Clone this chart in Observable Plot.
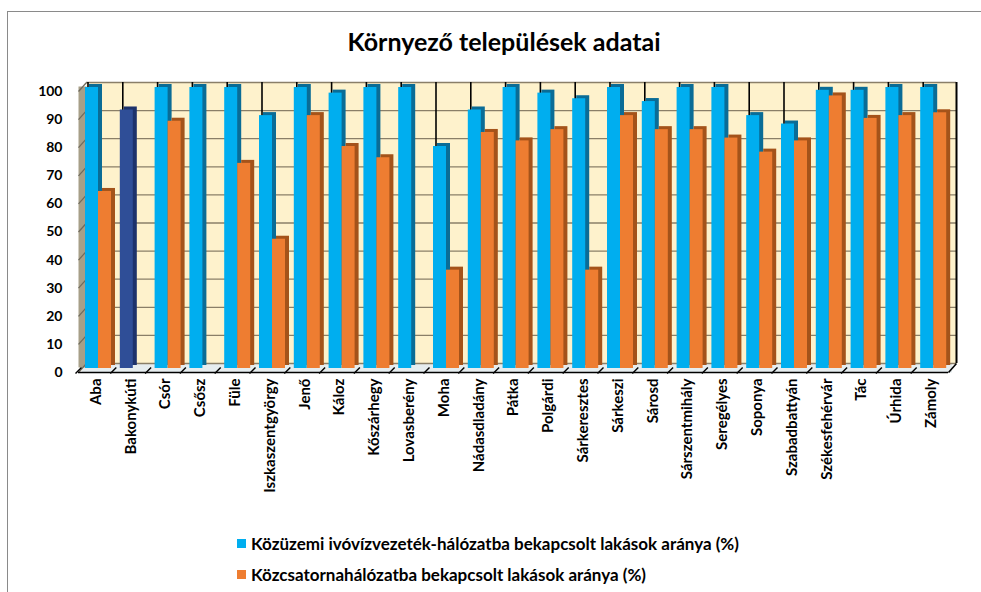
<!DOCTYPE html>
<html>
<head>
<meta charset="utf-8">
<script src="https://cdn.jsdelivr.net/npm/d3@7"></script>
<script src="https://cdn.jsdelivr.net/npm/@observablehq/plot@0.6"></script>
<style>
  html, body { margin: 0; padding: 0; background: #fff; }
  #wrap { position: relative; width: 981px; height: 592px; overflow: hidden; font-family: Lato, "Open Sans", sans-serif; color: #000; }
  #border { position: absolute; left: 7px; top: 11px; width: 990px; height: 700px; border: 1px solid #8a8a8a; box-sizing: border-box; }
  #title { position: relative; height: 66px; box-sizing: border-box; padding-top: 29px; text-align: center; font-size: 25px; line-height: 25px; font-weight: 700; padding-left: 27px; }
  #chart { position: relative; height: 454px; }
  #legend { position: relative; padding-top: 8px; padding-left: 237px; font-size: 17px; font-weight: 700; }
  .item { height: 31px; line-height: 31px; display: flex; align-items: center; }
  .sw { width: 9px; height: 9px; margin-right: 5px; display: inline-block; }
</style>
</head>
<body>
<div id="wrap">
  <div id="border"></div>
  <div id="title"></div>
  <div id="chart"></div>
  <div id="legend"></div>
</div>
<script>
const title = "Környező települések adatai";
const towns = ["Aba","Bakonykúti","Csór","Csősz","Füle","Iszkaszentgyörgy","Jenő","Káloz","Kőszárhegy","Lovasberény","Moha","Nádasdladány","Pátka","Polgárdi","Sárkeresztes","Sárkeszi","Sárosd","Sárszentmihály","Seregélyes","Soponya","Szabadbattyán","Székesfehérvár","Tác","Úrhida","Zámoly"];
const water = [100,92,100,100,100,90,100,98,100,100,79,92,100,98,96,100,95,100,100,90,87,99,99,100,100];
const sewer = [63,0,88,0,73,46,90,79,75,0,35,84,81,85,35,90,85,85,82,77,81,97,89,90,91];
const seriesNames = ["Közüzemi ivóvízvezeték-hálózatba bekapcsolt lakások aránya (%)", "Közcsatornahálózatba bekapcsolt lakások aránya (%)"];
const yTicks = [0,10,20,30,40,50,60,70,80,90,100];
const highlightTown = "Bakonykúti";

const colors = {
  water: "#00AEEF", waterSide: "#0A6C96",
  sewer: "#EE7D31", sewerSide: "#A4531A",
  hi: "#2F4E97", hiSide: "#1D326B",
  wall: "#FEF2CC", grid: "#8A7F68", side: "#A79F88", floor: "#E6EDEF"
};

document.getElementById("title").textContent = title;

const rows = towns.map((t, i) => ({town: t, water: water[i], sewer: sewer[i]}));

const W = 981, H = 454, mL = 78, mR = 33, mT = 25, mB = 148;
const bw = (W - mL - mR) / towns.length;
const depth = 4, backX = 8, backY = -9, barDy = -4;

const wallSlash = {draw(ctx) { ctx.moveTo(-4, 4.5); ctx.lineTo(4, -4.5); }};
const floorSlash = {draw(ctx) { ctx.moveTo(-3, 3); ctx.lineTo(3, -3); }};

const wIL = 7, wIR = bw - 20, sIL = 20, sIR = bw - 33;

const plot = Plot.plot({
  width: W, height: H,
  marginLeft: mL, marginRight: mR, marginTop: mT, marginBottom: mB,
  style: {fontFamily: "Lato, 'Open Sans', sans-serif", color: "#000", background: "transparent"},
  x: {domain: towns, padding: 0, round: false, label: null},
  y: {domain: [0, 100], label: null},
  marks: [
    Plot.frame({fill: colors.wall, dx: backX, dy: backY}),
    Plot.ruleY([0], {dx: backX / 2, dy: backY / 2, stroke: colors.floor, strokeWidth: 9}),
    Plot.gridY(yTicks, {stroke: colors.grid, strokeOpacity: 1, strokeWidth: 1.3, dx: backX, dy: backY}),
    Plot.ruleX([towns[0]], {y1: 0, y2: 100, dx: -bw / 2 + backX / 2, dy: backY / 2, stroke: colors.side, strokeWidth: 8}),
    Plot.dot(yTicks, {x: () => towns[0], y: d => d, dx: -bw / 2 + backX / 2, dy: backY / 2, symbol: wallSlash, stroke: "#6f6a5c", strokeWidth: 1.2, fill: "none"}),
    Plot.ruleX(towns, {x: d => d, y1: 0, y2: 100, dx: -bw / 2 + 9.5, dy: backY, stroke: "#000", strokeWidth: 1.6}),
    Plot.ruleX([towns[towns.length - 1]], {y1: 0, y2: 100, dx: bw / 2 + backX, dy: backY, stroke: "#000", strokeWidth: 2}),
    // 3D sides
    Plot.barY(rows, {x: "town", y: "water", insetLeft: wIL, insetRight: wIR, dx: depth, dy: barDy - 3,
      fill: d => d.town === highlightTown ? colors.hiSide : colors.waterSide}),
    Plot.barY(rows, {x: "town", y: "sewer", insetLeft: sIL, insetRight: sIR, dx: depth, dy: barDy - 3, fill: colors.sewerSide}),
    // front faces
    Plot.barY(rows, {x: "town", y: "water", insetLeft: wIL, insetRight: wIR, dy: barDy,
      fill: d => d.town === highlightTown ? colors.hi : colors.water}),
    Plot.barY(rows, {x: "town", y: "sewer", insetLeft: sIL, insetRight: sIR, dy: barDy, fill: colors.sewer}),
    Plot.ruleY([0], {stroke: "#000", strokeWidth: 1.6}),
    Plot.dot(towns, {x: d => d, y: 0, dx: -bw / 2, dy: -2, symbol: floorSlash, stroke: "#000", strokeWidth: 1.4, fill: "none"}),
    Plot.dot([towns[towns.length - 1]], {x: d => d, y: 0, dx: bw / 2 + backX / 2, dy: backY / 2, symbol: wallSlash, stroke: "#000", strokeWidth: 1.6, fill: "none"}),
    Plot.axisY(yTicks, {tickSize: 0, tickPadding: 16, fontSize: 14, fontWeight: "bold", label: null}),
    Plot.axisX({tickSize: 0, tickPadding: 6, tickRotate: -90, fontSize: 15, fontWeight: "bold", label: null})
  ]
});
document.getElementById("chart").appendChild(plot);

const legend = document.getElementById("legend");
[[seriesNames[0], colors.water], [seriesNames[1], colors.sewer]].forEach(([name, c]) => {
  const item = document.createElement("div");
  item.className = "item";
  const sw = document.createElement("span");
  sw.className = "sw";
  sw.style.background = c;
  const tx = document.createElement("span");
  tx.textContent = name;
  item.appendChild(sw); item.appendChild(tx);
  legend.appendChild(item);
});
</script>
</body>
</html>
